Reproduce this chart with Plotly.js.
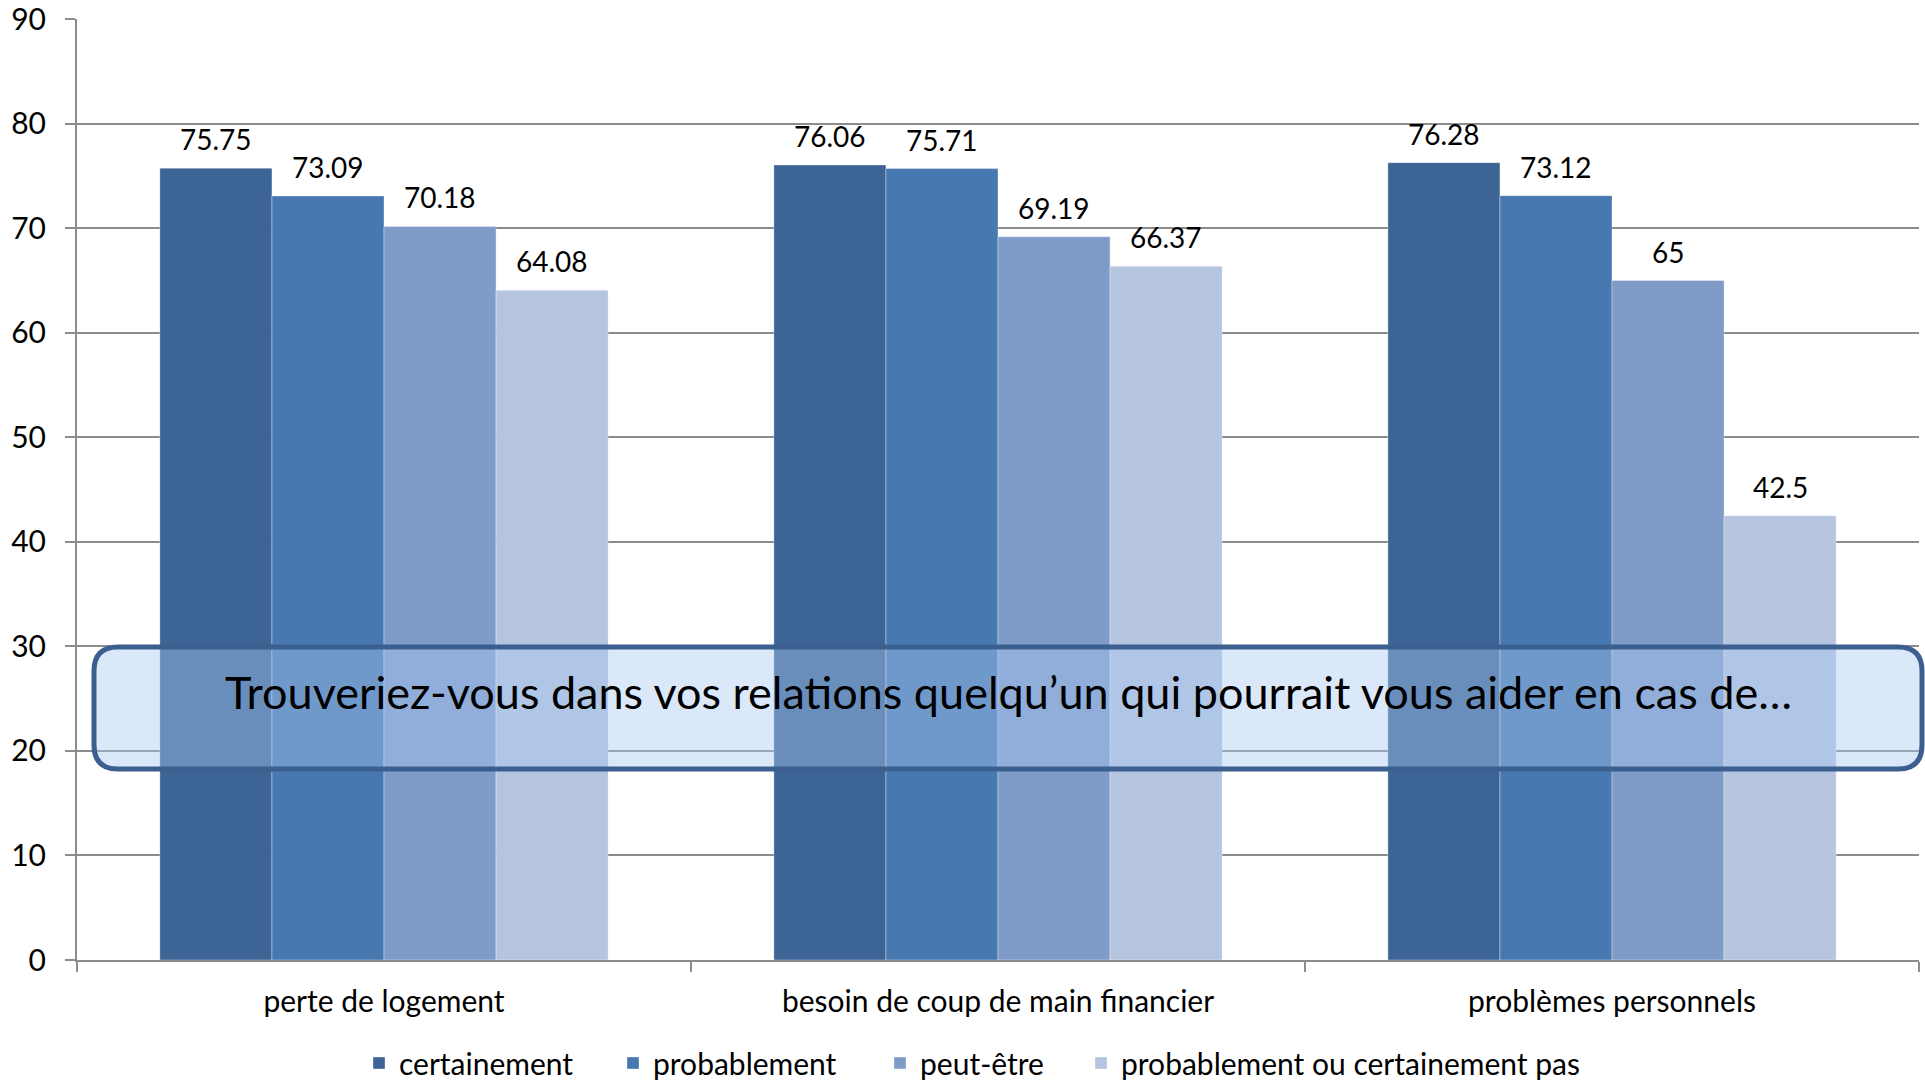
<!DOCTYPE html>
<html>
<head>
<meta charset="utf-8">
<script src="https://cdn.plot.ly/plotly-3.0.1.min.js"></script>
<style>
  html, body { margin: 0; padding: 0; background: #ffffff; }
  #chart { width: 1925px; height: 1080px; }
</style>
</head>
<body>
<div id="chart"></div>
<script>
// ---- data ----
const categories = ["perte de logement", "besoin de coup de main financier", "problèmes personnels"];
const seriesNames = ["certainement", "probablement", "peut-être", "probablement ou certainement pas"];
const certainement = [75.75, 76.06, 76.28];
const probablement = [73.09, 75.71, 73.12];
const peutEtre = [70.18, 69.19, 65];
const pasDuTout = [64.08, 66.37, 42.5];
const seriesColors = ["#3C6494", "#4878B0", "#7F9CC8", "#B5C4DF"];
const boxTitle = "Trouveriez-vous dans vos relations quelqu’un qui pourrait vous aider en cas de…";
const yTicks = [0, 10, 20, 30, 40, 50, 60, 70, 80, 90];

const seriesValues = [certainement, probablement, peutEtre, pasDuTout];
const FONT = "Lato, Carlito, Calibri, 'Noto Sans', sans-serif";

const W = 1925, H = 1080;
const mL = 77, mR = 6, mT = 19, mB = 120;
const pw = W - mL - mR, ph = H - mT - mB;
function px2x(p) { return (p - mL) / pw; }
function py2y(p) { return (H - mB - p) / ph; }

const BARGAP = 0.27;
const barPx = (pw / categories.length) * (1 - BARGAP) / seriesValues.length;

const legendIds = ["legend", "legend2", "legend3", "legend4"];
const legendTextStart = [399, 653, 920, 1121];   // pixel x where each legend label starts

const traces = seriesValues.map((vals, i) => ({
  type: "bar",
  name: seriesNames[i],
  legend: legendIds[i],
  x: categories,
  y: vals,
  cliponaxis: false,
  marker: { color: seriesColors[i], line: { color: "rgba(255,255,255,0.35)", width: 1 } },
  hoverinfo: "x+y+name"
}));

// value labels above each bar, placed through the axes
const valueLabels = [];
seriesValues.forEach((vals, i) => {
  vals.forEach((v, j) => {
    valueLabels.push({
      xref: "x", yref: "y",
      x: categories[j], y: v,
      xshift: (i - (seriesValues.length - 1) / 2) * barPx,
      yshift: 29,
      xanchor: "center", yanchor: "middle",
      text: String(v),
      showarrow: false,
      font: { family: FONT, size: 28, color: "#000000" }
    });
  });
});

// rounded rectangle (paper coords)
const bx0 = px2x(94), bx1 = px2x(1922), by0 = py2y(769), by1 = py2y(647);
const rx = 24 / pw, ry = 24 / ph;
const boxPath =
  `M ${bx0 + rx},${by1} L ${bx1 - rx},${by1} Q ${bx1},${by1} ${bx1},${by1 - ry} ` +
  `L ${bx1},${by0 + ry} Q ${bx1},${by0} ${bx1 - rx},${by0} ` +
  `L ${bx0 + rx},${by0} Q ${bx0},${by0} ${bx0},${by0 + ry} ` +
  `L ${bx0},${by1 - ry} Q ${bx0},${by1} ${bx0 + rx},${by1} Z`;

const layout = {
  width: W, height: H,
  margin: { l: mL, r: mR, t: mT, b: mB, pad: 0, autoexpand: false },
  paper_bgcolor: "#ffffff",
  plot_bgcolor: "#ffffff",
  font: { family: FONT, size: 30, color: "#000000" },
  barmode: "group",
  bargap: BARGAP,
  bargroupgap: 0,
  showlegend: true,
  xaxis: {
    type: "category",
    automargin: false,
    showline: true, linecolor: "#8C8C8C", linewidth: 2,
    ticks: "outside", tickson: "boundaries", ticklen: 10, tickcolor: "#8C8C8C", tickwidth: 2,
    ticklabelstandoff: 14,
    tickfont: { family: FONT, size: 30, color: "#000000" },
    showgrid: false,
    fixedrange: true
  },
  yaxis: {
    range: [0, 90.02],
    automargin: false,
    tickvals: yTicks,
    ticktext: yTicks.map(String),
    ticklabeloverflow: "allow",
    showline: true, linecolor: "#8C8C8C", linewidth: 2,
    ticks: "outside", ticklen: 10, tickcolor: "#8C8C8C", tickwidth: 2,
    ticklabelstandoff: 13,
    tickfont: { family: FONT, size: 30, color: "#000000" },
    showgrid: true, gridcolor: "#8C8C8C", gridwidth: 2,
    zeroline: false,
    fixedrange: true
  },
  shapes: [{
    type: "path",
    xref: "paper", yref: "paper",
    path: boxPath,
    fillcolor: "rgba(170,200,240,0.42)",
    line: { color: "#3B5F8E", width: 5 },
    layer: "above"
  }],
  annotations: valueLabels.concat([{
    xref: "paper", yref: "paper",
    x: px2x(1008), y: py2y(692),
    xanchor: "center", yanchor: "middle",
    text: boxTitle,
    showarrow: false,
    font: { family: FONT, size: 45, color: "#000000" }
  }])
};

legendIds.forEach((id, i) => {
  layout[id] = {
    orientation: "h",
    xref: "paper", yref: "container",
    x: px2x(legendTextStart[i] - 40), xanchor: "left",
    y: (H - 1063) / H, yanchor: "middle",
    font: { family: FONT, size: 30, color: "#000000" },
    bgcolor: "rgba(0,0,0,0)",
    borderwidth: 0,
    itemwidth: 30
  };
});

Plotly.newPlot("chart", traces, layout, { displayModeBar: false, staticPlot: true });
</script>
</body>
</html>
